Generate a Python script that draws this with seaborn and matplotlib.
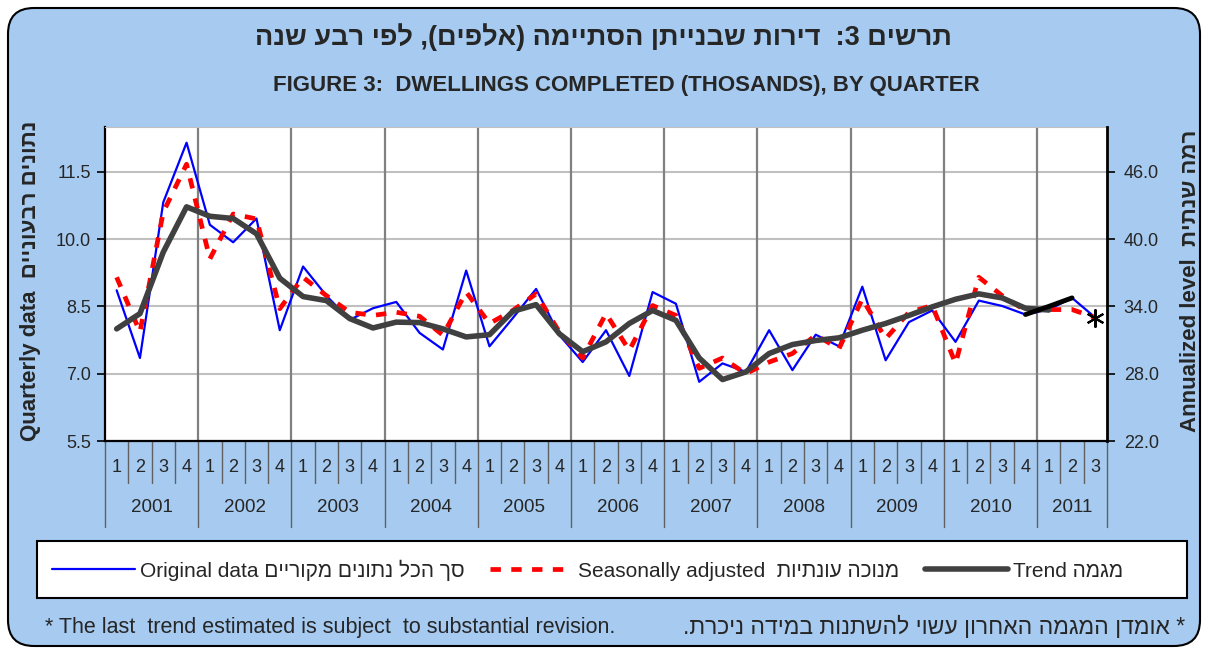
import numpy as np
import pandas as pd
import matplotlib
matplotlib.use("Agg")
import matplotlib.pyplot as plt
import matplotlib.transforms as mtransforms
import seaborn as sns
from matplotlib.patches import FancyBboxPatch, Rectangle
from matplotlib.lines import Line2D

# ── data (thousands of dwellings, per quarter) ──
YEARS    = [str(y) for y in range(2001, 2012)]
QUARTERS = ["1", "2", "3", "4"] * 10 + ["1", "2", "3"]

original = [8.86, 7.35, 10.82, 12.15,
            10.32, 9.93, 10.46, 7.97,
            9.39, 8.74, 8.20, 8.46,
            8.60, 7.91, 7.54, 9.30,
            7.61, 8.24, 8.89, 7.86,
            7.26, 7.97, 6.95, 8.82,
            8.56, 6.82, 7.23, 7.04,
            7.97, 7.08, 7.87, 7.61,
            8.94, 7.30, 8.15, 8.41,
            7.71, 8.63, 8.51, 8.32,
            8.43, 8.69, 8.25]

seasonal = [9.15, 7.93, 10.60, 11.67,
            9.56, 10.56, 10.45, 8.45,
            9.15, 8.74, 8.37, 8.30,
            8.37, 8.28, 7.86, 8.82,
            8.12, 8.41, 8.78, 7.93,
            7.35, 8.34, 7.52, 8.52,
            8.30, 7.12, 7.35, 7.00,
            7.26, 7.45, 7.86, 7.56,
            8.67, 7.78, 8.37, 8.52,
            7.23, 9.15, 8.74, 8.41,
            8.43, 8.43, 8.25]

trend = [8.00, 8.34, 9.71, 10.72,
         10.51, 10.46, 10.12, 9.13,
         8.72, 8.63, 8.23, 8.02,
         8.15, 8.14, 8.00, 7.82,
         7.87, 8.39, 8.54, 7.89,
         7.49, 7.71, 8.12, 8.41,
         8.19, 7.35, 6.87, 7.04,
         7.45, 7.65, 7.74, 7.80,
         7.97, 8.12, 8.30, 8.49,
         8.66, 8.78, 8.69, 8.46,
         8.42, np.nan, np.nan]

trend_last = [np.nan] * 39 + [8.32, 8.50, 8.69, np.nan]

Y_TICKS = [5.5, 7.0, 8.5, 10.0, 11.5]
Y2_TICKS = [22.0, 28.0, 34.0, 40.0, 46.0]

BG = "#A6CAF0"
FONT = ["Liberation Sans", "DejaVu Sans"]
NARROW = ["Liberation Sans Narrow", "Liberation Sans", "DejaVu Sans"]


def heb(s):
    """Hebrew to visual (left-to-right) order for matplotlib."""
    return s[::-1].translate(str.maketrans("()", ")("))


df = pd.DataFrame({"q": np.arange(len(QUARTERS)), "original": original,
                   "seasonal": seasonal, "trend": trend,
                   "trend_last": trend_last})

sns.set_style("white")
plt.rcParams["font.family"] = FONT

W, H = 1206, 648
fig = plt.figure(figsize=(W / 100, H / 100), dpi=100)
fig.patch.set_facecolor("white")

bg = FancyBboxPatch((8, 2), 1192, 638, boxstyle="round,pad=0,rounding_size=26",
                    transform=mtransforms.IdentityTransform(),
                    facecolor=BG, edgecolor="black", linewidth=1.5, zorder=-10)
fig.add_artist(bg)

ax = fig.add_axes([105 / W, 1 - 441 / H, 1002 / W, 314 / H])
ax.set_facecolor("white")

sns.lineplot(data=df, x="q", y="original", color="#0000FF", lw=1.6, ax=ax, zorder=3)
sns.lineplot(data=df, x="q", y="seasonal", color="#FF0000", lw=3.4,
             linestyle=(0, (2.2, 2.2)), ax=ax, zorder=4)
sns.lineplot(data=df, x="q", y="trend", color="#404040", lw=4, ax=ax, zorder=5)
sns.lineplot(data=df, x="q", y="trend_last", color="black", lw=3.5, ax=ax, zorder=6)
ax.plot(df["q"].iloc[-1], df["seasonal"].iloc[-1], marker=(6, 2, 0), ms=13,
        mew=1.5, color="black", zorder=7)

ax.set_xlim(-0.5, len(QUARTERS) - 0.5)
ax.set_ylim(5.5, 12.5)
ax.set_yticks(Y_TICKS)
ax.set_yticklabels([f"{v:.1f}" for v in Y_TICKS], fontsize=13)
ax.set_xticks([])
ax.set_xlabel("")
ax.set_ylabel("")
ax.tick_params(axis="y", direction="out", length=6, width=1.2, color="black",
               left=True, pad=4)
ax.set_axisbelow(True)
ax.yaxis.grid(True, color="#C0C0C0", lw=1.5)
for k in range(4, len(QUARTERS), 4):
    ax.axvline(k - 0.5, color="#808080", lw=1.6, zorder=1)

for side in ["left", "bottom"]:
    ax.spines[side].set_color("black")
    ax.spines[side].set_linewidth(1.6)
ax.spines["top"].set_color("#C0C0C0")
ax.spines["right"].set_visible(False)

ax2 = ax.twinx()
ax2.set_ylim(22, 50)
ax2.set_yticks(Y2_TICKS)
ax2.set_yticklabels([f"{v:.1f}" for v in Y2_TICKS], fontsize=13)
ax2.tick_params(axis="y", direction="out", length=6, width=1.2, color="black", pad=6)
for side in ["left", "top", "bottom"]:
    ax2.spines[side].set_visible(False)
ax2.spines["right"].set_color("black")
ax2.spines["right"].set_linewidth(2)
ax2.grid(False)

# category table under the plot
tr = mtransforms.blended_transform_factory(ax.transData, fig.transFigure)
y_top = 1 - 441 / H
y_q = 1 - 483 / H
y_y = 1 - 527 / H
for k in range(len(QUARTERS) + 1):
    long_line = (k % 4 == 0) or k == len(QUARTERS)
    ax.plot([k - 0.5, k - 0.5], [y_top, y_y if long_line else y_q], transform=tr,
            color="#606060", lw=1, clip_on=False)
for i, q in enumerate(QUARTERS):
    ax.text(i, 1 - 467 / H, q, transform=tr, ha="center", va="center", fontsize=13)
for j, yr in enumerate(YEARS):
    n = min(4, len(QUARTERS) - 4 * j)
    ax.text(4 * j + (n - 1) / 2, 1 - 508 / H, yr, transform=tr, ha="center",
            va="center", fontsize=13.5)

# titles and axis labels
fig.text(603 / W, 1 - 37 / H, heb("תרשים 3:  דירות שבנייתן הסתיימה (אלפים), לפי רבע שנה"),
         ha="center", va="center", fontsize=19.5, fontweight="bold", family=NARROW)
fig.text(626 / W, 1 - 85 / H, "FIGURE 3:  DWELLINGS COMPLETED (THOSANDS), BY QUARTER",
         ha="center", va="center", fontsize=16, fontweight="bold", family=NARROW)
fig.text(31 / W, 1 - 281 / H, "Quarterly data  " + heb("נתונים רבעוניים"),
         rotation=90, ha="center", va="center", fontsize=16, fontweight="bold")
fig.text(1190 / W, 1 - 281 / H, "Annualized level  " + heb("רמה שנתית"),
         rotation=90, ha="center", va="center", fontsize=16, fontweight="bold")

# legend box
fig.add_artist(Rectangle((37 / W, 1 - 598 / H), 1150 / W, 57 / H,
                         transform=fig.transFigure, facecolor="white",
                         edgecolor="black", lw=1.5))
handles = [Line2D([], [], color="#0000FF", lw=1.6),
           Line2D([], [], color="#FF0000", lw=3.4, linestyle=(0, (2.2, 2.2))),
           Line2D([], [], color="#404040", lw=4)]
labels = ["Original data " + heb("סך הכל נתונים מקוריים"),
          "Seasonally adjusted  " + heb("מנוכה עונתיות"),
          "Trend " + heb("מגמה")]
fig.legend(handles, labels, ncol=3, loc="center left",
           bbox_to_anchor=(33 / W, 1 - 570 / H), frameon=False, fontsize=15,
           handlelength=4.0, handletextpad=0.25, columnspacing=1.2)

# footnotes
fig.text(45 / W, 1 - 627 / H, "* The last  trend estimated is subject  to substantial revision.",
         ha="left", va="center", fontsize=15.5)
fig.text(1185 / W, 1 - 627 / H, heb("* אומדן המגמה האחרון עשוי להשתנות במידה ניכרת."),
         ha="right", va="center", fontsize=16.5)

fig.savefig("out.png", dpi=100)
